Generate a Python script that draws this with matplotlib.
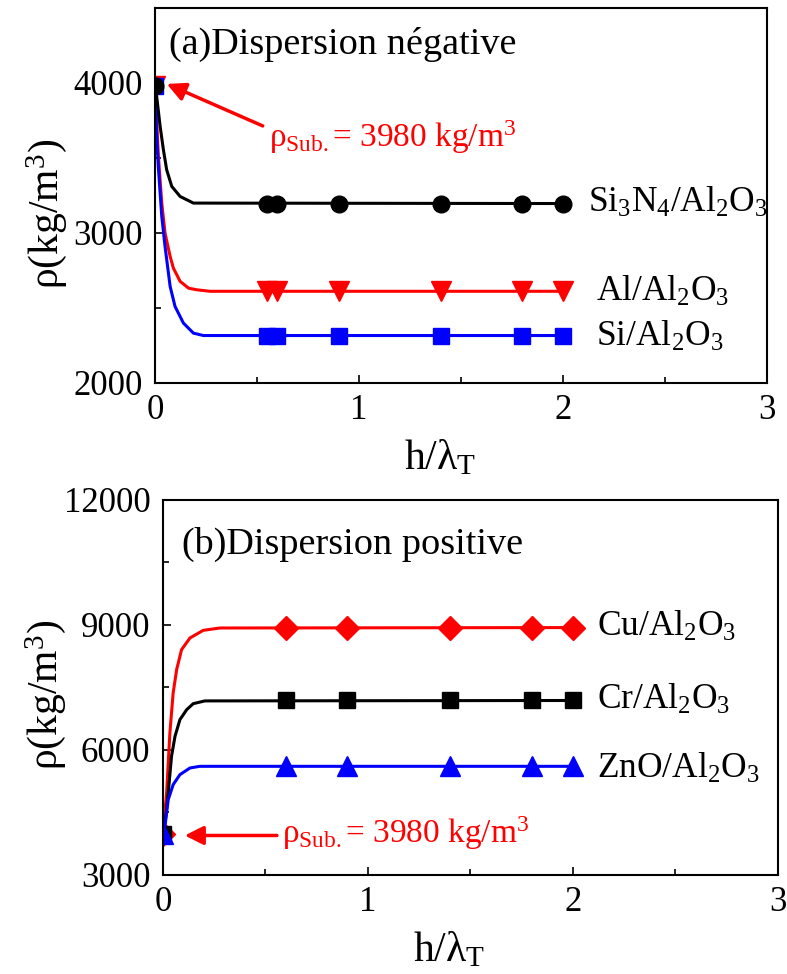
import matplotlib
matplotlib.use("Agg")
import matplotlib.pyplot as plt
from matplotlib.ticker import MultipleLocator

plt.rcParams['font.family'] = ['Liberation Serif', 'DejaVu Serif']
plt.rcParams['mathtext.fontset'] = 'custom'
plt.rcParams['mathtext.rm'] = 'Liberation Serif'
plt.rcParams['mathtext.it'] = 'Liberation Serif:italic'

# (a) negative dispersion - curves
si3n4_x = [0, 0.008, 0.025, 0.041, 0.057, 0.082, 0.123, 0.188, 2.0]
si3n4_y = [3980, 3909, 3709, 3553, 3420, 3309, 3242, 3198, 3195]
al_x = [0, 0.016, 0.033, 0.049, 0.074, 0.090, 0.123, 0.164, 0.204, 0.270, 2.0]
al_y = [3980, 3520, 3198, 2998, 2842, 2764, 2676, 2631, 2620, 2610, 2610]
si_x = [0, 0.008, 0.016, 0.025, 0.033, 0.049, 0.074, 0.098, 0.139, 0.188, 0.237, 2.0]
si_y = [3980, 3642, 3442, 3264, 3109, 2909, 2642, 2509, 2398, 2331, 2315, 2315]

mark_a_x = [0, 0.55, 0.6, 0.9, 1.4, 1.8, 2.0]
si3n4_m = [3980, 3195, 3195, 3195, 3195, 3195, 3195]
al_m = [3980, 2610, 2610, 2610, 2610, 2610, 2610]
si_m = [3980, 2315, 2315, 2315, 2315, 2315, 2315]

# (b) positive dispersion
cu_x = [0, 0.018, 0.034, 0.050, 0.067, 0.091, 0.132, 0.197, 0.278, 2.0]
cu_y = [3980, 4960, 6400, 7360, 7920, 8400, 8680, 8864, 8920, 8930]
cr_x = [0, 0.012, 0.026, 0.042, 0.059, 0.083, 0.116, 0.148, 0.205, 2.0]
cr_y = [3980, 4300, 4960, 5840, 6320, 6720, 6960, 7104, 7170, 7180]
zno_x = [0, 0.010, 0.026, 0.050, 0.083, 0.132, 0.180, 2.0]
zno_y = [3980, 4160, 4800, 5160, 5400, 5560, 5600, 5600]

mark_b_x = [0, 0.6, 0.9, 1.4, 1.8, 2.0]
cu_m = [3980, 8930, 8930, 8930, 8930, 8930]
cr_m = [3980, 7180, 7180, 7180, 7180, 7180]
zno_m = [3980, 5600, 5600, 5600, 5600, 5600]

sub_label = r'ρ$_\mathrm{Sub.}$= 3980 kg/m$^3$'

fig = plt.figure(figsize=(7.87, 9.74), dpi=100)
ax1 = fig.add_axes([0.197, 0.607, 0.778, 0.385])
ax2 = fig.add_axes([0.207, 0.102, 0.781, 0.385])

lw = 2.2
# panel a
ax1.plot(al_x, al_y, color='red', lw=lw)
ax1.plot(mark_a_x, al_m, 'v', color='red', ms=14, ls='none')
ax1.plot(si_x, si_y, color='blue', lw=lw)
ax1.plot(mark_a_x, si_m, 's', color='blue', ms=12, ls='none')
ax1.plot(si3n4_x, si3n4_y, color='black', lw=lw)
ax1.plot(mark_a_x, si3n4_m, 'o', color='black', ms=12, ls='none')

ax1.set_xlim(0, 3)
ax1.set_ylim(2000, 4500)
ax1.yaxis.set_major_locator(MultipleLocator(1000))
ax1.yaxis.set_minor_locator(MultipleLocator(500))

ax1.text(0.07, 4255, '(a)Dispersion négative', fontsize=27.5, va='center')
ax1.text(2.12, 3200, r'Si$_3$N$_4$/Al$_2$O$_3$', fontsize=25.5, va='center')
ax1.text(2.16, 2605, r'Al/Al$_2$O$_3$', fontsize=25.5, va='center')
ax1.text(2.16, 2305, r'Si/Al$_2$O$_3$', fontsize=25.5, va='center')
ax1.annotate('', xy=(0.045, 4000), xytext=(0.54, 3705),
             arrowprops=dict(arrowstyle='-|>', color='red', lw=2.5, mutation_scale=28))
ax1.text(0.56, 3640, sub_label, color='red', fontsize=24, va='center')
ax1.set_ylabel('ρ(kg/m$^3$)', fontsize=30)
ax1.set_xlabel(r'h/λ$_\mathrm{T}$', fontsize=30)
ax1.yaxis.set_label_coords(-0.14, 0.45)
ax1.xaxis.set_label_coords(0.466, -0.15)

# panel b
ax2.plot(cu_x, cu_y, color='red', lw=lw)
ax2.plot(mark_b_x, cu_m, 'D', color='red', ms=12, ls='none')
ax2.plot(cr_x, cr_y, color='black', lw=lw)
ax2.plot(mark_b_x, cr_m, 's', color='black', ms=12, ls='none')
ax2.plot(zno_x, zno_y, color='blue', lw=lw)
ax2.plot(mark_b_x, zno_m, '^', color='blue', ms=14, ls='none')

ax2.set_xlim(0, 3)
ax2.set_ylim(3000, 12000)
ax2.yaxis.set_major_locator(MultipleLocator(3000))
ax2.yaxis.set_minor_locator(MultipleLocator(1500))

ax2.text(0.093, 10920, '(b)Dispersion positive', fontsize=27.5, va='center')
ax2.text(2.12, 8950, r'Cu/Al$_2$O$_3$', fontsize=25.5, va='center')
ax2.text(2.12, 7200, r'Cr/Al$_2$O$_3$', fontsize=25.5, va='center')
ax2.text(2.12, 5550, r'ZnO/Al$_2$O$_3$', fontsize=25.5, va='center')
ax2.annotate('', xy=(0.093, 3940), xytext=(0.57, 3940),
             arrowprops=dict(arrowstyle='-|>', color='red', lw=2.5, mutation_scale=28))
ax2.text(0.58, 3990, sub_label, color='red', fontsize=24, va='center')
ax2.set_ylabel('ρ(kg/m$^3$)', fontsize=30)
ax2.set_xlabel(r'h/λ$_\mathrm{T}$', fontsize=30)
ax2.yaxis.set_label_coords(-0.155, 0.48)
ax2.xaxis.set_label_coords(0.465, -0.15)

for ax in (ax1, ax2):
    ax.xaxis.set_major_locator(MultipleLocator(1))
    ax.xaxis.set_minor_locator(MultipleLocator(0.5))
    ax.tick_params(which='both', direction='in', top=False, right=False, labelsize=25, width=1.2)
    ax.tick_params(which='major', length=6)
    ax.tick_params(which='minor', length=4)
    ax.tick_params(axis='y', pad=9)
    ax.tick_params(axis='x', pad=8)
    for s in ax.spines.values():
        s.set_linewidth(1.5)

fig.savefig('out.png', dpi=100)
